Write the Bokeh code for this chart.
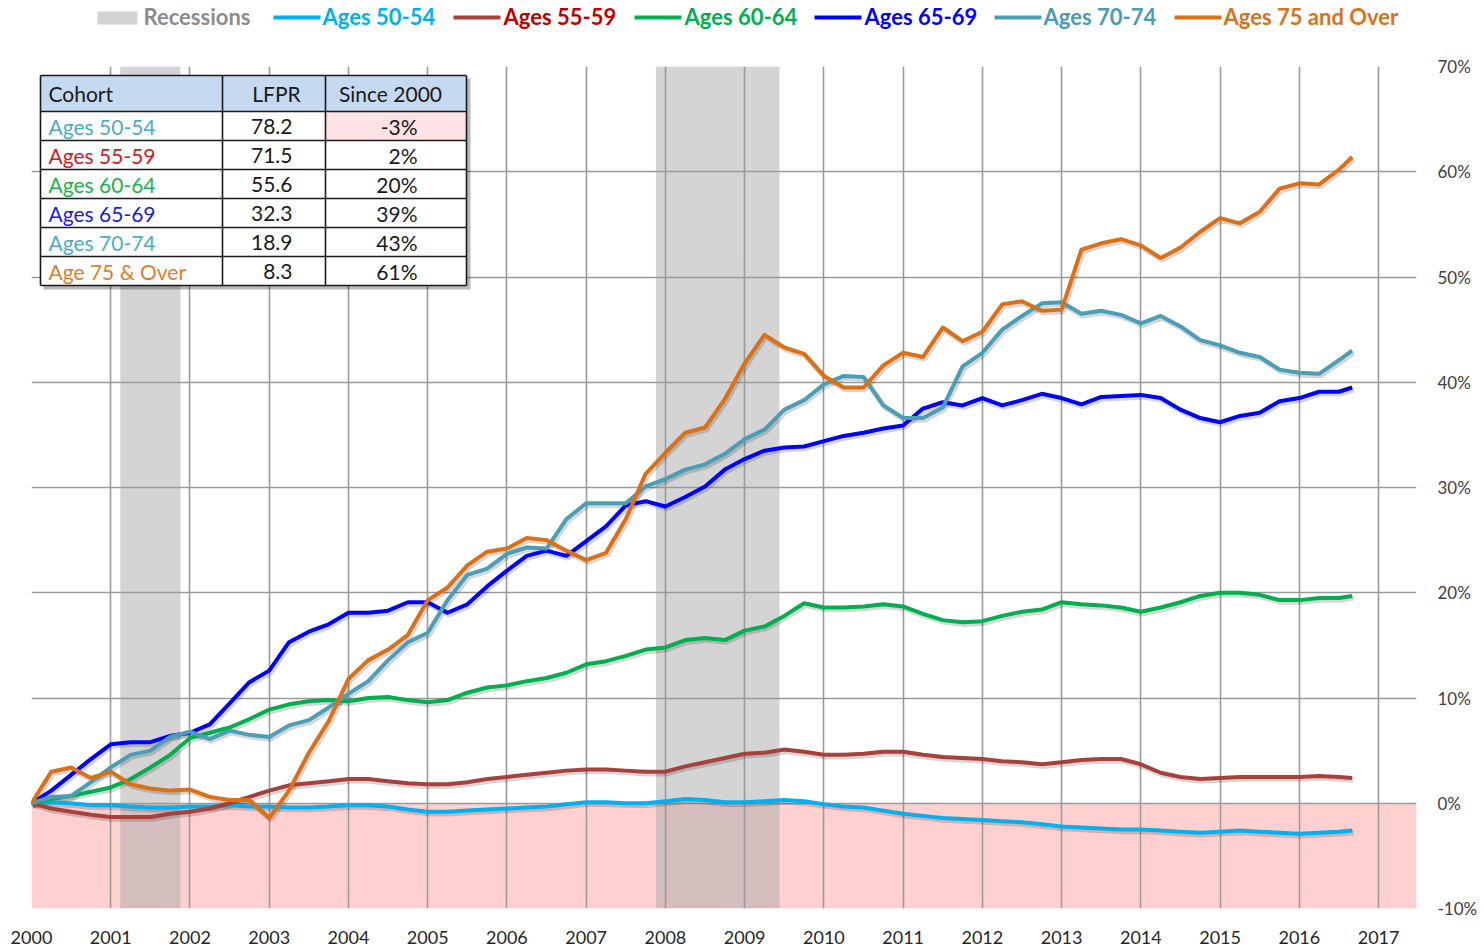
import numpy as np
from bokeh.plotting import figure
from bokeh.layouts import column
from bokeh.models import Range1d, BoxAnnotation, FixedTicker, PrintfTickFormatter
from bokeh.embed import file_html
from bokeh.resources import INLINE
from bokeh.core.properties import value

# ---------------- data ----------------
months = list(range(0, 199, 3)) + [200]          # months since Jan 2000 (quarterly)
dates = [2000 + m / 12 for m in months]

ages_50_54 = [0.0, 0.1, 0.0, -0.2, -0.2, -0.3, -0.4, -0.4,
              -0.3, -0.3, -0.2, -0.3, -0.3, -0.4, -0.4, -0.3,
              -0.2, -0.2, -0.3, -0.6, -0.8, -0.8, -0.7, -0.6,
              -0.5, -0.4, -0.3, -0.1, 0.1, 0.1, 0.0, 0.0,
              0.2, 0.4, 0.3, 0.1, 0.1, 0.2, 0.3, 0.2,
              -0.1, -0.3, -0.4, -0.7, -1.0, -1.2, -1.4, -1.5,
              -1.6, -1.7, -1.8, -2.0, -2.2, -2.3, -2.4, -2.5,
              -2.5, -2.6, -2.7, -2.8, -2.7, -2.6, -2.7, -2.8,
              -2.9, -2.8, -2.7, -2.6]
ages_55_59 = [0.0, -0.5, -0.8, -1.1, -1.3, -1.3, -1.3, -1.0,
              -0.8, -0.5, 0.0, 0.6, 1.2, 1.7, 1.9, 2.1,
              2.3, 2.3, 2.1, 1.9, 1.8, 1.8, 2.0, 2.3,
              2.5, 2.7, 2.9, 3.1, 3.2, 3.2, 3.1, 3.0,
              3.0, 3.5, 3.9, 4.3, 4.7, 4.8, 5.1, 4.9,
              4.6, 4.6, 4.7, 4.9, 4.9, 4.6, 4.4, 4.3,
              4.2, 4.0, 3.9, 3.7, 3.9, 4.1, 4.2, 4.2,
              3.7, 2.9, 2.5, 2.3, 2.4, 2.5, 2.5, 2.5,
              2.5, 2.6, 2.5, 2.4]
ages_60_64 = [0.0, 0.4, 0.7, 1.1, 1.5, 2.3, 3.4, 4.6,
              6.2, 6.7, 7.2, 8.0, 8.9, 9.4, 9.7, 9.8,
              9.7, 10.0, 10.1, 9.8, 9.6, 9.8, 10.5, 11.0,
              11.2, 11.6, 11.9, 12.4, 13.2, 13.5, 14.0, 14.6,
              14.8, 15.5, 15.7, 15.5, 16.4, 16.8, 17.8, 19.0,
              18.6, 18.6, 18.7, 18.9, 18.7, 18.0, 17.4, 17.2,
              17.3, 17.8, 18.2, 18.4, 19.1, 18.9, 18.8, 18.6,
              18.2, 18.6, 19.1, 19.7, 20.0, 20.0, 19.8, 19.3,
              19.3, 19.5, 19.5, 19.7]
ages_65_69 = [0.0, 1.2, 2.7, 4.2, 5.6, 5.8, 5.8, 6.4,
              6.7, 7.5, 9.5, 11.5, 12.6, 15.3, 16.3, 17.0,
              18.1, 18.1, 18.3, 19.1, 19.1, 18.1, 18.9, 20.6,
              22.1, 23.5, 24.0, 23.5, 24.9, 26.3, 28.3, 28.7,
              28.2, 29.1, 30.1, 31.7, 32.7, 33.5, 33.8, 33.9,
              34.4, 34.9, 35.2, 35.6, 35.9, 37.5, 38.1, 37.8,
              38.5, 37.8, 38.3, 38.9, 38.5, 37.9, 38.6, 38.7,
              38.8, 38.5, 37.4, 36.6, 36.2, 36.8, 37.1, 38.2,
              38.5, 39.1, 39.1, 39.5]
ages_70_74 = [0.0, 0.6, 0.7, 2.0, 3.4, 4.6, 5.0, 6.3,
              6.8, 6.1, 6.9, 6.5, 6.3, 7.4, 7.9, 9.1,
              10.4, 11.6, 13.6, 15.3, 16.2, 19.3, 21.7, 22.3,
              23.7, 24.3, 24.2, 27.0, 28.5, 28.5, 28.5, 30.1,
              30.8, 31.7, 32.2, 33.2, 34.6, 35.5, 37.4, 38.3,
              39.8, 40.6, 40.5, 37.8, 36.6, 36.6, 37.6, 41.5,
              42.8, 45.0, 46.3, 47.5, 47.6, 46.5, 46.8, 46.4,
              45.6, 46.3, 45.3, 44.0, 43.5, 42.8, 42.4, 41.2,
              40.9, 40.8, 42.1, 43.0]
ages_75_over = [0.0, 3.0, 3.4, 2.4, 3.0, 1.8, 1.4, 1.2,
                1.3, 0.6, 0.3, 0.3, -1.4, 1.2, 4.8, 7.8,
                11.8, 13.6, 14.6, 16.0, 19.3, 20.5, 22.6, 23.9,
                24.2, 25.2, 25.0, 24.0, 23.1, 23.8, 27.0, 31.3,
                33.3, 35.2, 35.7, 38.4, 41.8, 44.5, 43.3, 42.7,
                40.6, 39.5, 39.5, 41.6, 42.8, 42.4, 45.2, 43.9,
                44.8, 47.4, 47.7, 46.8, 46.9, 52.6, 53.2, 53.6,
                53.0, 51.8, 52.8, 54.3, 55.6, 55.1, 56.2, 58.4,
                58.9, 58.8, 60.2, 61.4]

recession_start = [2001.12, 2007.88]
recession_end = [2001.88, 2009.44]

series_names = ["Ages 50-54", "Ages 55-59", "Ages 60-64", "Ages 65-69",
                "Ages 70-74", "Ages 75 and Over"]
series_values = [ages_50_54, ages_55_59, ages_60_64, ages_65_69, ages_70_74, ages_75_over]
line_colors = ["#00B0F0", "#A8403D", "#00B050", "#0000FF", "#4A9EB6", "#DC7015"]
legend_text_colors = ["#00B0F0", "#C00000", "#00B050", "#0000FF", "#4A9CB4", "#D8721C"]

year_ticks = list(range(2000, 2018))
pct_ticks = list(range(-10, 71, 10))

table_cohorts = ["Ages 50-54", "Ages 55-59", "Ages 60-64", "Ages 65-69",
                 "Ages 70-74", "Age 75 & Over"]
table_lfpr = ["78.2", "71.5", "55.6", "32.3", "18.9", "8.3"]
table_since = ["-3%", "2%", "20%", "39%", "43%", "61%"]
table_colors = ["#4BACC6", "#D9161E", "#22B24C", "#1A1AE6", "#4BACC6", "#E57B25"]

# ---------------- layout constants (page pixels; page has no margin) ----------------
FONT = value("Lato")
PAGE_W = 1484
LEG_H = 48
FRAME_L, FRAME_T = 31, 66
FW, FH = 1385, 842
PPY = 79.24                         # pixels per year
X0 = 2000.0
X1 = X0 + FW / PPY
Y0, Y1 = -10, 70
PPP = FH / (Y1 - Y0)                # pixels per percentage point


def X(px):
    return X0 + (px - FRAME_L) / PPY


def Y(py):
    return Y1 - (py - FRAME_T) / PPP


# ---------------- legend strip (frame aligned with the chart frame) ----------------
leg = figure(width=PAGE_W, height=LEG_H, x_range=Range1d(FRAME_L, FRAME_L + FW),
             y_range=Range1d(LEG_H, 0), x_axis_location=None, y_axis_location=None,
             toolbar_location=None, output_backend="svg", min_border=0,
             min_border_left=FRAME_L, min_border_right=PAGE_W - FRAME_L - FW,
             outline_line_color=None)
leg.xgrid.visible = False
leg.ygrid.visible = False
leg.quad(left=[97], right=[137], top=[11], bottom=[24], fill_color="#D3D3D3", line_color=None)
leg.text(x=[143], y=[16], text=["Recessions"], text_color="#8C8C8C", text_font=FONT,
         text_font_style="bold", text_font_size="22px", text_baseline="middle")
sw_left = [273, 453, 634, 814, 994, 1174]
txt_left = [322, 503, 684, 864, 1043, 1223]
leg.segment(x0=sw_left, x1=[s + 47 for s in sw_left], y0=[17] * 6, y1=[17] * 6,
            line_color=line_colors, line_width=4)
leg.text(x=txt_left, y=[16] * 6, text=series_names, text_color=legend_text_colors,
         text_font=FONT, text_font_style="bold", text_font_size="22px", text_baseline="middle")

# ---------------- main chart ----------------
p = figure(frame_width=FW, frame_height=FH, x_range=Range1d(X0, X1), y_range=Range1d(Y0, Y1),
           y_axis_location="right", toolbar_location=None, output_backend="svg",
           min_border_left=FRAME_L, min_border_top=FRAME_T - LEG_H,
           min_border_bottom=42, min_border_right=PAGE_W - FRAME_L - FW,
           outline_line_color=None)

p.xaxis.ticker = FixedTicker(ticks=year_ticks)
p.xgrid.ticker = FixedTicker(ticks=year_ticks)
p.xaxis.axis_line_color = None
p.xaxis.major_tick_line_color = None
p.xaxis.minor_tick_line_color = None
p.xaxis.major_label_standoff = 16
p.xaxis.major_label_text_font = "Lato"
p.xaxis.major_label_text_font_size = "18px"
p.xaxis.major_label_text_color = "#262626"

p.yaxis.ticker = FixedTicker(ticks=pct_ticks)
p.ygrid.ticker = FixedTicker(ticks=pct_ticks)
p.yaxis.formatter = PrintfTickFormatter(format="%d%%")
p.yaxis.axis_line_color = None
p.yaxis.major_tick_line_color = None
p.yaxis.minor_tick_line_color = None
p.yaxis.major_label_standoff = 15
p.yaxis.major_label_text_font = "Lato"
p.yaxis.major_label_text_font_size = "17px"
p.yaxis.major_label_text_color = "#404040"
for g in (p.xgrid, p.ygrid):
    g.grid_line_color = "#9A9A9A"
    g.grid_line_width = 1.6

p.add_layout(BoxAnnotation(top=0, fill_color="#FFD0D0", fill_alpha=1.0,
                           line_color=None, level="image"))
for a, b in zip(recession_start, recession_end):
    p.add_layout(BoxAnnotation(left=a, right=b, fill_color="#A9A9A9", fill_alpha=0.5,
                               line_color=None, level="image"))

dx, dy = 1.5 / PPY, -2.0 / PPP
for vals in series_values:
    p.line([d + dx for d in dates], [v + dy for v in vals], line_color="black",
           line_alpha=0.16, line_width=5.5)
for vals, col in zip(series_values, line_colors):
    p.line(dates, vals, line_color=col, line_width=4, line_join="round")

# ---------------- table ----------------
col_x = [40, 222, 325, 466]
row_y = [75, 111, 140, 169, 198, 227, 256, 285]
p.quad(left=[X(col_x[0] + 3)], right=[X(col_x[-1] + 4)], top=[Y(row_y[0] + 3)],
       bottom=[Y(row_y[-1] + 4)], fill_color="black", fill_alpha=0.28, line_color=None)
p.quad(left=[X(col_x[0])], right=[X(col_x[-1])], top=[Y(row_y[0])], bottom=[Y(row_y[-1])],
       fill_color="white", line_color=None)
p.quad(left=[X(col_x[0])], right=[X(col_x[-1])], top=[Y(row_y[0])], bottom=[Y(row_y[1])],
       fill_color="#C5D9F1", line_color=None)
p.quad(left=[X(col_x[2])], right=[X(col_x[3])], top=[Y(row_y[1])], bottom=[Y(row_y[2])],
       fill_color="#FDE3E3", line_color=None)
hx0 = [X(col_x[0])] * len(row_y)
hx1 = [X(col_x[-1])] * len(row_y)
hy = [Y(r) for r in row_y]
p.segment(x0=hx0, x1=hx1, y0=hy, y1=hy, line_color="#1A1A1A", line_width=1.6)
vx = [X(c) for c in col_x]
p.segment(x0=vx, x1=vx, y0=[Y(row_y[0])] * 4, y1=[Y(row_y[-1])] * 4,
          line_color="#1A1A1A", line_width=1.6)

hdr_y = Y((row_y[0] + row_y[1]) / 2)
p.text(x=[X(48)], y=[hdr_y], text=["Cohort"], text_font=FONT, text_font_size="21px",
       text_color="#1A1A1A", text_baseline="middle")
p.text(x=[X(276), X(390)], y=[hdr_y] * 2, text=["LFPR", "Since 2000"], text_font=FONT,
       text_font_size="21px", text_color="#1A1A1A", text_baseline="middle",
       text_align="center")
ry = [Y((row_y[i] + row_y[i + 1]) / 2) for i in range(1, 7)]
p.text(x=[X(48)] * 6, y=ry, text=table_cohorts, text_color=table_colors, text_font=FONT,
       text_font_size="21px", text_baseline="middle")
p.text(x=[X(292)] * 6, y=ry, text=table_lfpr, text_color="#1A1A1A", text_font=FONT,
       text_font_size="21px", text_baseline="middle", text_align="right")
p.text(x=[X(417)] * 6, y=ry, text=table_since, text_color="#1A1A1A", text_font=FONT,
       text_font_size="21px", text_baseline="middle", text_align="right")

layout = column(leg, p, spacing=0)
open("out.html", "w").write(file_html(layout, INLINE))
